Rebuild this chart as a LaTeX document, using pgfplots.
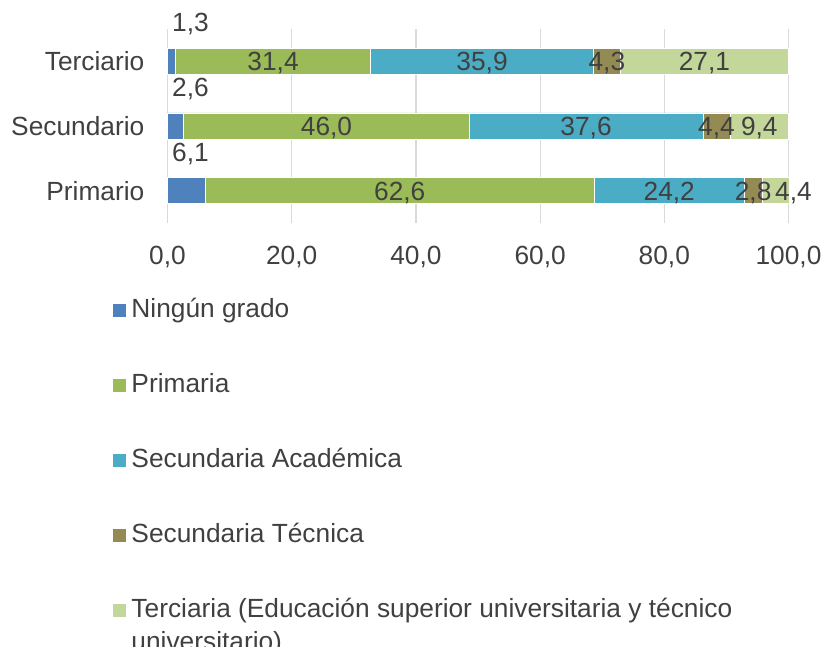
\documentclass[border=0pt]{standalone}
\usepackage{pgfplots}
\pgfplotsset{compat=1.18}
\usepackage{pgfplotstable}
\usepackage{fontspec}
\setmainfont{Liberation Sans}
\definecolor{txt}{HTML}{404040}
\definecolor{cNing}{HTML}{4F81BD}
\definecolor{cPrim}{HTML}{9BBB59}
\definecolor{cSecA}{HTML}{4BACC6}
\definecolor{cSecT}{HTML}{948A54}
\definecolor{cTerc}{HTML}{C4D79B}
\definecolor{gridc}{HTML}{D9D9D9}

\pgfplotstableread{
pos ning prim seca sect terc dx
0   6.1  62.6 24.2 2.8  4.4  18
1   2.6  46.0 37.6 4.4  9.4  0
2   1.3  31.4 35.9 4.3  27.1 0
}\datatable

\pgfkeys{/pgf/number format/assume math mode=true}
\pgfplotsset{
  labcalc/.code={%
    \pgfkeys{/pgf/fpu=true,/pgf/fpu/output format=fixed}%
    \pgfmathsetmacro\labhalf{\pgfplotspointmeta*3.105}%
    \pgfkeys{/pgf/fpu=false}%
  },
  labcalcdx/.code={%
    \pgfkeys{/pgf/fpu=true,/pgf/fpu/output format=fixed}%
    \pgfmathsetmacro\labtot{\labdx+0}%
    \pgfkeys{/pgf/fpu=false}%
  },
  centerlab/.style={every node near coord/.style={anchor=center, inner sep=0pt, text height=19pt, text depth=0pt, text=txt}},
}

\begin{document}
\fontsize{26.3pt}{31pt}\selectfont\color{txt}%
\begin{tikzpicture}
\useasboundingbox (0,0) rectangle (822pt,-647pt);
\begin{axis}[
  at={(167.5pt,-29.3pt)}, anchor=north west,
  scale only axis, width=621pt, height=193.4pt,
  xbar stacked, bar width=26pt,
  xmin=0, xmax=100, ymin=-0.497, ymax=2.49,
  axis line style={draw=none},
  tick style={draw=none},
  major tick length=0pt,
  xtick={0,20,...,100}, ytick={0,1,2},
  yticklabels={Primario,Secundario,Terciario},
  xticklabel={\pgfmathprintnumber[fixed,fixed zerofill,precision=1,use comma]{\tick}},
  xmajorgrids, major grid style={draw=gridc, line width=1.2pt},
  x tick label style={anchor=north, inner sep=0pt, text height=18.5pt, text depth=0pt, yshift=-23pt, text=txt},
  y tick label style={anchor=east, inner sep=0pt, text height=19pt, text depth=0pt, xshift=-23pt, text=txt},
  point meta=explicit,
  nodes near coords={\pgfmathprintnumber[fixed,fixed zerofill,precision=1,use comma]{\pgfplotspointmeta}},
  legend style={at={(-0.0889,-0.3945)}, anchor=north west, draw=none, fill=none, inner sep=0pt, outer sep=0pt, column sep=5pt, row sep=51pt, nodes={inner sep=0pt, text height=18pt, text depth=6pt, anchor=west, text=txt}},
  legend cell align=left,
  legend image code/.code={\fill[#1] (0pt,-6pt) rectangle (13.7pt,7.7pt);},
  clip=false,
]
\addplot[fill=cNing, draw=white, line width=0.5pt,
  every node near coord/.style={/pgfplots/labcalc, anchor=center, inner sep=0pt, text height=19pt, text depth=0pt, text=txt, xshift=-\labhalf pt+23pt, yshift=39pt}]
  table[x=ning, y=pos, meta=ning] \datatable;
\addlegendentry{Ningún grado}
\addplot[fill=cPrim, draw=white, line width=0.5pt, centerlab]
  table[x=prim, y=pos, meta=prim] \datatable;
\addlegendentry{Primaria}
\addplot[fill=cSecA, draw=white, line width=0.5pt, centerlab]
  table[x=seca, y=pos, meta=seca] \datatable;
\addlegendentry{Secundaria Académica}
\addplot[fill=cSecT, draw=white, line width=0.5pt, centerlab]
  table[x=sect, y=pos, meta=sect] \datatable;
\addlegendentry{Secundaria Técnica}
\addplot[fill=cTerc, draw=white, line width=0.5pt,
  visualization depends on={\thisrow{dx} \as \labdx},
  every node near coord/.style={/pgfplots/labcalcdx, anchor=center, inner sep=0pt, text height=19pt, text depth=0pt, text=txt, xshift=\labtot pt}]
  table[x=terc, y=pos, meta=terc] \datatable;
\addlegendentry{\parbox[t]{700pt}{\fontsize{26.3pt}{33pt}\selectfont Terciaria (Educación superior universitaria y técnico\\universitario)}}
\end{axis}
\end{tikzpicture}
\end{document}
